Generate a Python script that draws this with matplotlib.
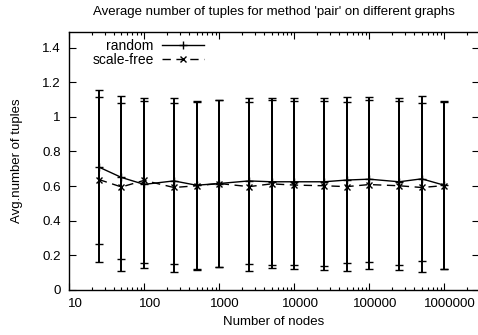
import numpy as np
import matplotlib
matplotlib.use("Agg")
import matplotlib.pyplot as plt
from matplotlib.transforms import ScaledTranslation

plt.rcParams["font.family"] = ["Liberation Sans", "DejaVu Sans"]

# number of nodes in each graph
nodes = [25, 50, 100, 250, 500, 1000, 2500, 5000, 10000, 25000,
         50000, 100000, 250000, 500000, 1000000]

# random graphs: mean and std of the number of tuples
random_mean = [0.71, 0.65, 0.61, 0.63, 0.605, 0.615, 0.63, 0.625, 0.625, 0.625,
               0.635, 0.64, 0.625, 0.642, 0.605]
random_std = [0.447, 0.47, 0.483, 0.477, 0.485, 0.482, 0.479, 0.481, 0.481, 0.484,
              0.477, 0.477, 0.483, 0.476, 0.484]

# scale-free graphs
sf_mean = [0.638, 0.595, 0.633, 0.592, 0.602, 0.615, 0.597, 0.613, 0.606, 0.602,
           0.597, 0.609, 0.602, 0.592, 0.603]
sf_std = [0.478, 0.486, 0.476, 0.488, 0.485, 0.482, 0.486, 0.484, 0.487, 0.487,
          0.487, 0.488, 0.487, 0.486, 0.484]

yticks = [0, 0.2, 0.4, 0.6, 0.8, 1, 1.2, 1.4]
ytick_labels = ["0", "0.2", "0.4", "0.6", "0.8", "1", "1.2", "1.4"]
xticks = [10, 100, 1000, 10000, 100000, 1000000]
xtick_labels = ["10", "100", "1000", "10000", "100000", "1000000"]

fig = plt.figure(figsize=(4.78, 3.35), dpi=100)
ax = fig.add_axes([69 / 478, 45 / 335, 410 / 478, 258 / 335])

ax.errorbar(nodes, random_mean, yerr=random_std, color="black", lw=1.0,
            elinewidth=1.4, capsize=3, capthick=1.0, marker="+", ms=6,
            mew=1.0, label="random")
ax.errorbar(nodes, sf_mean, yerr=sf_std, color="black", lw=1.0,
            elinewidth=1.4, capsize=3, capthick=1.0, marker="x", ms=5,
            mew=1.0, dashes=(6, 4), label="scale-free")

ax.set_xscale("log")
ax.set_xlim(10, 2.9e6)
ax.set_ylim(0, 1.49)
ax.set_xticks(xticks)
ax.set_xticklabels(xtick_labels)
ax.set_yticks(yticks)
ax.set_yticklabels(ytick_labels)

ax.tick_params(which="both", direction="in", top=True, right=True,
               labelsize=9.6, width=0.8)
ax.tick_params(which="major", length=5)
ax.tick_params(which="minor", length=2.5)
ax.tick_params(axis="x", pad=6)
ax.tick_params(axis="y", pad=6)
for spine in ax.spines.values():
    spine.set_linewidth(1.0)

# shift x labels a bit to the right, like the original
shift = ScaledTranslation(6 / 100, 0, fig.dpi_scale_trans)
for lbl in ax.get_xticklabels():
    lbl.set_transform(lbl.get_transform() + shift)

ax.set_title("Average number of tuples for method 'pair' on different graphs",
             fontsize=9.5, pad=12)
ax.set_xlabel("Number of nodes", fontsize=9.5, labelpad=4)
ax.set_ylabel("Avg.number of tuples", fontsize=9.5, labelpad=14)

handles, labels = ax.get_legend_handles_labels()
handles = [h[0] for h in handles]
ax.legend(handles, labels, loc="upper left", bbox_to_anchor=(0.04, 1.0),
          frameon=False, markerfirst=False, fontsize=10, handlelength=3.0,
          labelspacing=0.0, borderaxespad=0.1, handletextpad=0.6)

fig.savefig("out.png", dpi=100)
